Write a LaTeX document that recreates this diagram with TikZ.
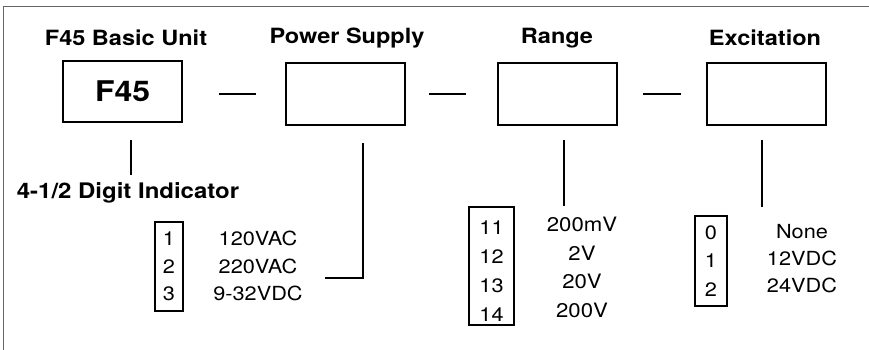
\documentclass[tikz,border=0pt]{standalone}
\usepackage{fontspec}
\setmainfont{TeX Gyre Heros}[FakeStretch=1.12]
\usetikzlibrary{positioning}

\tikzset{
  title/.style={font=\fontsize{21}{24}\selectfont\bfseries},
  unit/.style={draw, line width=2pt, minimum width=119pt, minimum height=62pt, inner sep=0pt},
  optbox/.style={draw, line width=2pt, inner sep=0pt, align=center},
  opttext/.style={align=center},
  link/.style={line width=2pt},
  frame/.style={draw=black!60, line width=1.3pt}
}

\begin{document}
\begin{tikzpicture}[x=1pt, y=-1pt, line cap=butt, line join=miter]
  % page size of the reference (869 x 350)
  \useasboundingbox (0,0) rectangle (869,350);
  \draw[frame] (3.5,350) -- (3.5,6.5) -- (869,6.5);

  % headings
  \node[title] (tf45)   at (126,38) {F45 Basic Unit};
  \node[title] (tps)    at (347,38) {Power Supply};
  \node[title] (trange) at (557,38) {Range};
  \node[title] (texc)   at (765,38) {Excitation};

  % code boxes
  \node[unit, minimum height=61pt, font=\fontsize{28.5}{30}\selectfont\bfseries] (f45) at (122.5,91.5) {F45};
  \node[unit] (ps)    at (345.5,94) {};
  \node[unit] (range) at (557.5,94) {};
  \node[unit] (exc)   at (766,94) {};

  \draw[link, shorten <=36pt, shorten >=29pt] (f45.east |- ps.west) -- (ps.west);
  \draw[link, shorten <=23pt, shorten >=31pt] (ps.east) -- (range.west);
  \draw[link, shorten <=25pt, shorten >=25pt] (range.east) -- (exc.west);

  % basic unit
  \node[font=\fontsize{21.4}{24}\selectfont\bfseries] (ind) at (128,193) {4-1/2 Digit Indicator};
  \coordinate (f45end) at (131,175);
  \draw[link, shorten <=17pt] (f45.south -| f45end) -- (f45end);

  % power supply options
  \node[optbox, minimum width=28pt, minimum height=89pt, font=\fontsize{19.4}{27.5}\selectfont] (psopt) at (169,266.5) {1\\2\\3};
  \node[opttext, font=\fontsize{19.4}{27.5}\selectfont] (pstext) at (258,266) {120VAC\\220VAC\\9-32VDC};
  \coordinate (psturn) at (363,277.5);
  \coordinate (psend) at (325,277.5);
  \draw[link, shorten <=17pt] (ps.south -| psturn) -- (psturn) -- (psend);

  % range options
  \node[optbox, minimum width=45pt, minimum height=118pt] (rngopt) at (491.5,266) {};
  \node[opttext, font=\fontsize{19.4}{29}\selectfont] (rngnum) at (491.5,271) {11\\12\\13\\14};
  \node[opttext, font=\fontsize{19.8}{28.7}\selectfont] (rngtext) at (582,267.5) {200mV\\2V\\20V\\200V};
  \coordinate (rngend) at (564,206);
  \draw[link, shorten <=14pt] (range.south -| rngend) -- (rngend);

  % excitation options
  \node[optbox, minimum width=32pt, minimum height=90pt, font=\fontsize{19.4}{28.5}\selectfont] (excopt) at (711,261) {0\\1\\2};
  \node[opttext, font=\fontsize{19.4}{27}\selectfont] (exctext) at (802,259) {None\\12VDC\\24VDC};
  \coordinate (excend) at (762,207);
  \draw[link, shorten <=14pt] (exc.south -| excend) -- (excend);
\end{tikzpicture}
\end{document}
